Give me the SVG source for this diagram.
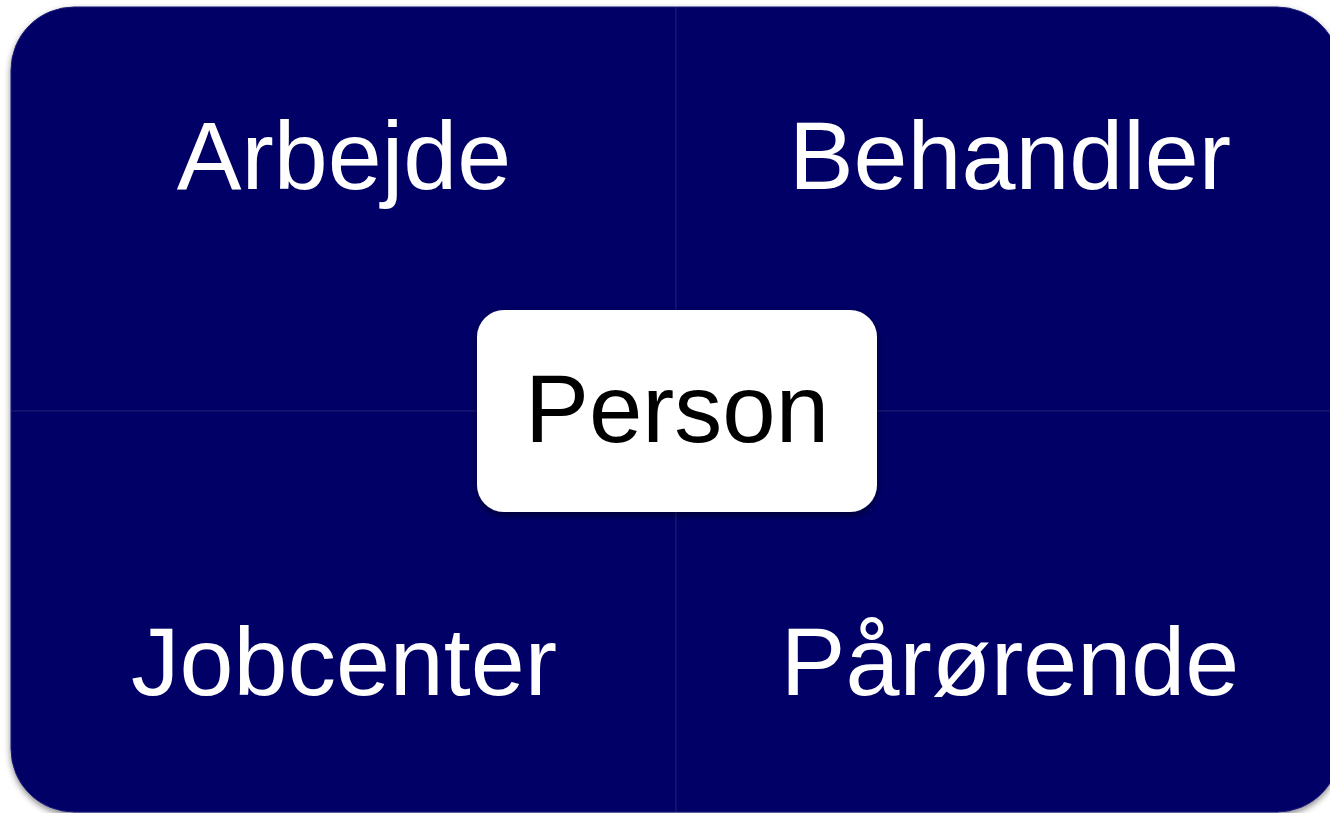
<svg xmlns="http://www.w3.org/2000/svg" width="1330" height="813" viewBox="0 0 1330 813">
  <defs>
    <filter id="shadow" x="-10%" y="-10%" width="120%" height="130%">
      <feDropShadow dx="0" dy="3" stdDeviation="3" flood-color="#000" flood-opacity="0.45"/>
    </filter>
    <filter id="shadow2" x="-10%" y="-10%" width="120%" height="130%">
      <feDropShadow dx="0" dy="3" stdDeviation="3" flood-color="#000" flood-opacity="0.5"/>
    </filter>
  </defs>
  <style>
    .quad { fill: #000066; stroke: #1c1c77; stroke-width: 1; }
    .qlabel { font-family: "Liberation Sans", Arial, sans-serif; font-size: 97px; fill: #ffffff; text-anchor: middle; }
    .center { fill: #ffffff; }
    .clabel { font-family: "Liberation Sans", Arial, sans-serif; font-size: 96px; fill: #000000; text-anchor: middle; }
  </style>
  <rect width="1330" height="813" fill="#ffffff"/>
  <g filter="url(#shadow)">
    <g id="arbejde">
      <path class="quad" d="M11,411 L11,70 A63,63 0 0 1 74,7 L676,7 L676,411 Z"/>
      <text class="qlabel" x="344" y="189">Arbejde</text>
    </g>
    <g id="behandler">
      <path class="quad" d="M676,7 L1277,7 A63,63 0 0 1 1340,70 L1340,411 L676,411 Z"/>
      <text class="qlabel" x="1010" y="189">Behandler</text>
    </g>
    <g id="jobcenter">
      <path class="quad" d="M11,411 L676,411 L676,812 L74,812 A63,63 0 0 1 11,749 Z"/>
      <text class="qlabel" x="344" y="695">Jobcenter</text>
    </g>
    <g id="parorende">
      <path class="quad" d="M676,411 L1340,411 L1340,749 A63,63 0 0 1 1277,812 L676,812 Z"/>
      <text class="qlabel" x="1010" y="695">Pårørende</text>
    </g>
  </g>
  <g id="connectors"></g>
  <g id="person" filter="url(#shadow2)">
    <rect class="center" x="477" y="310" width="400" height="202" rx="27" ry="27"/>
    <text class="clabel" x="677" y="442">Person</text>
  </g>
</svg>
